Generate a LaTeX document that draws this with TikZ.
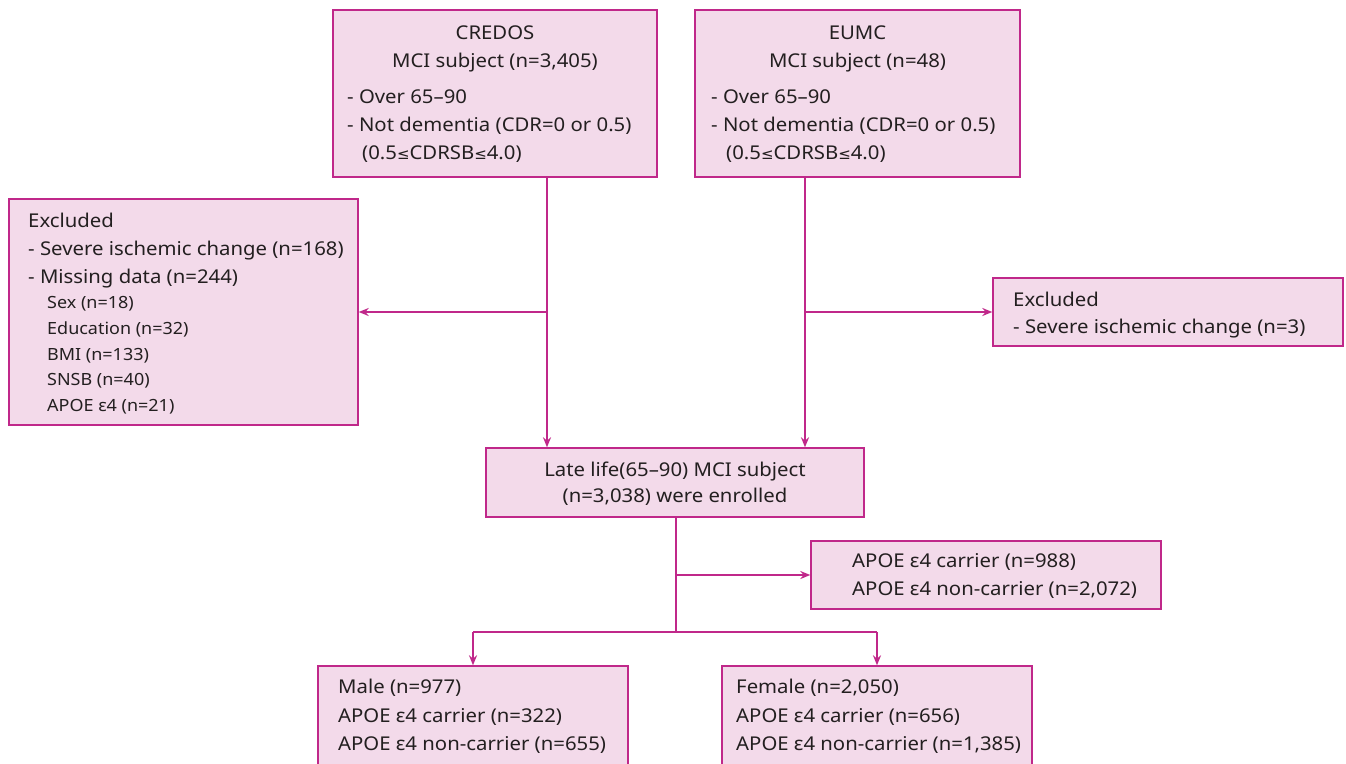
\documentclass[tikz,border=0pt]{standalone}
\usepackage{fontspec}
\setmainfont[FakeStretch=1.07]{Noto Sans}
\newfontfamily\symfont{DejaVu Sans}
\newcommand{\lesym}{{\symfont\fontsize{15}{18}\selectfont ≤}}
\usetikzlibrary{arrows.meta}
\definecolor{boxfill}{HTML}{F3DAEA}
\definecolor{boxline}{HTML}{C0288A}
\definecolor{txt}{HTML}{231F20}
\begin{document}
\begin{tikzpicture}[x=1pt,y=-1pt,
  box/.style={draw=boxline, fill=boxfill, line width=1.4pt, inner sep=0pt},
  t/.style={inner sep=0pt, text=txt, font=\fontsize{19}{22}\selectfont},
  ts/.style={inner sep=0pt, text=txt, font=\fontsize{16.8}{20}\selectfont},
  conn/.style={draw=boxline, line width=1.6pt},
  arr/.style={conn, -{Stealth[length=10pt,width=8pt]}}]
\clip (0,0) rectangle (1346,763);
\fill[white] (0,0) rectangle (1346,763);
% boxes
\node[box, minimum width=324pt, minimum height=167pt] (credos) at (495,93.5) {};
\node[box, minimum width=325pt, minimum height=167pt] (eumc) at (857.5,93.5) {};
\node[box, minimum width=349pt, minimum height=226pt] (exL) at (183.5,312) {};
\node[box, minimum width=350pt, minimum height=68pt] (exR) at (1168,312) {};
\node[box, minimum width=378pt, minimum height=69pt] (late) at (675,482.5) {};
\node[box, minimum width=350pt, minimum height=68pt] (apoe) at (986,575) {};
\node[box, minimum width=310pt, minimum height=134pt] (male) at (473,733) {};
\node[box, minimum width=310pt, minimum height=134pt] (female) at (877,733) {};
% CREDOS text
\node[t, anchor=base] (c1) at (495,39) {CREDOS};
\node[t, anchor=base] (c2) at (495,67) {MCI subject (n=3,405)};
\node[t, anchor=base west] (c3) at (347,103) {- Over 65–90};
\node[t, anchor=base west] (c4) at (347,131) {- Not dementia (CDR=0 or 0.5)};
\node[t, anchor=base west] (c5) at (362,159) {(0.5\lesym CDRSB\lesym 4.0)};
% EUMC text
\node[t, anchor=base] (e1) at (857.5,39) {EUMC};
\node[t, anchor=base] (e2) at (857.5,67) {MCI subject (n=48)};
\node[t, anchor=base west] (e3) at (711,103) {- Over 65–90};
\node[t, anchor=base west] (e4) at (711,131) {- Not dementia (CDR=0 or 0.5)};
\node[t, anchor=base west] (e5) at (726,159) {(0.5\lesym CDRSB\lesym 4.0)};
% left excluded
\node[t, anchor=base west] (l1) at (28,227) {Excluded};
\node[t, anchor=base west] (l2) at (28,255) {- Severe ischemic change (n=168)};
\node[t, anchor=base west] (l3) at (28,283) {- Missing data (n=244)};
\node[ts, anchor=base west] (l4) at (47,308) {Sex (n=18)};
\node[ts, anchor=base west] (l5) at (47,334) {Education (n=32)};
\node[ts, anchor=base west] (l6) at (47,360) {BMI (n=133)};
\node[ts, anchor=base west] (l7) at (47,385) {SNSB (n=40)};
\node[ts, anchor=base west] (l8) at (47,411) {APOE ε4 (n=21)};
% right excluded
\node[t, anchor=base west] (r1) at (1013,306) {Excluded};
\node[t, anchor=base west] (r2) at (1013,333) {- Severe ischemic change (n=3)};
% late life
\node[t, anchor=base] (m1) at (675,476) {Late life(65–90) MCI subject};
\node[t, anchor=base] (m2) at (675,502) {(n=3,038) were enrolled};
% apoe
\node[t, anchor=base west] (a1) at (852,567) {APOE ε4 carrier (n=988)};
\node[t, anchor=base west] (a2) at (852,595) {APOE ε4 non-carrier (n=2,072)};
% male
\node[t, anchor=base west] (ma1) at (338,693) {Male (n=977)};
\node[t, anchor=base west] (ma2) at (338,722) {APOE ε4 carrier (n=322)};
\node[t, anchor=base west] (ma3) at (338,750) {APOE ε4 non-carrier (n=655)};
% female
\node[t, anchor=base west] (f1) at (736,693) {Female (n=2,050)};
\node[t, anchor=base west] (f2) at (736,722) {APOE ε4 carrier (n=656)};
\node[t, anchor=base west] (f3) at (736,750) {APOE ε4 non-carrier (n=1,385)};
% connectors
\coordinate (xc) at (547,0);
\coordinate (xe) at (805,0);
\coordinate (jl) at (547,312);
\coordinate (jr) at (805,312);
\coordinate (ja) at (676,575);
\coordinate (jb) at (676,632);
\draw[arr] (credos.south -| xc) -- (late.north -| xc);
\draw[arr] (jl) -- (exL.east);
\draw[arr] (eumc.south -| xe) -- (late.north -| xe);
\draw[arr] (jr) -- (exR.west);
\draw[conn] (late.south -| jb) -- (jb);
\draw[arr] (ja) -- (apoe.west);
\draw[conn] (male.north |- jb) -- (female.north |- jb);
\draw[arr] (male.north |- jb) -- (male.north);
\draw[arr] (female.north |- jb) -- (female.north);
\end{tikzpicture}
\end{document}
